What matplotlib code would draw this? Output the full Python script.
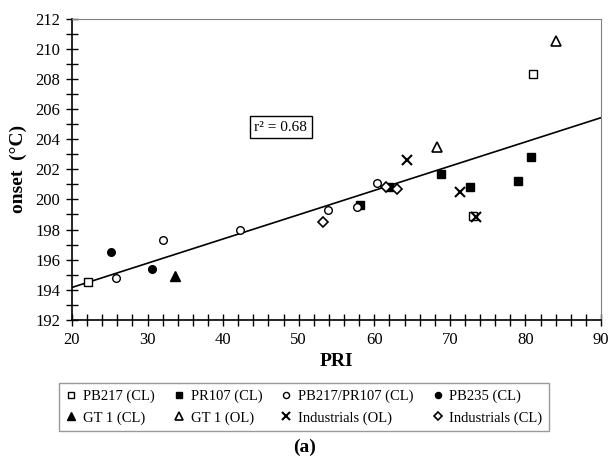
import numpy as np
import matplotlib
matplotlib.use("Agg")
import matplotlib.pyplot as plt

plt.rcParams['font.family'] = ['Liberation Serif', 'DejaVu Serif']

# datos (PRI, onset)
pb217_x = [22.1, 73.0, 81.0]
pb217_y = [194.5, 198.9, 208.3]
pr107_x = [58.1, 62.0, 68.8, 72.7, 79.0, 80.8]
pr107_y = [199.6, 200.8, 201.7, 200.8, 201.2, 202.8]
mix_x = [25.8, 32.1, 42.2, 53.9, 57.7, 60.4]
mix_y = [194.8, 197.3, 198.0, 199.3, 199.5, 201.1]
pb235_x = [25.1, 30.6]
pb235_y = [196.5, 195.4]
gt1cl_x = [33.6]
gt1cl_y = [194.9]
gt1ol_x = [68.3, 84.0]
gt1ol_y = [203.5, 210.5]
indol_x = [64.3, 71.3, 73.4]
indol_y = [202.6, 200.5, 198.8]
indcl_x = [53.2, 61.5, 63.0]
indcl_y = [198.5, 200.8, 200.7]

# recta de regresion
fit_x = [20, 90]
fit_y = [194.16, 205.42]

fig = plt.figure(figsize=(6.1, 4.68), dpi=100)
ax = fig.add_axes([72/610, 1-320/468, (601-72)/610, (320-18.5)/468])

ax.plot(fit_x, fit_y, color='black', lw=1.2, zorder=2)

h = []
h += ax.plot(pb217_x, pb217_y, 's', mfc='white', mec='black', ms=6, mew=1, ls='none', label='PB217 (CL)', zorder=3)
h += ax.plot(pr107_x, pr107_y, 's', mfc='black', mec='black', ms=6, ls='none', label='PR107 (CL)', zorder=3)
h += ax.plot(mix_x, mix_y, 'o', mfc='white', mec='black', ms=5.5, mew=1, ls='none', label='PB217/PR107 (CL)', zorder=3)
h += ax.plot(pb235_x, pb235_y, 'o', mfc='black', mec='black', ms=5.5, ls='none', label='PB235 (CL)', zorder=3)
h += ax.plot(gt1cl_x, gt1cl_y, '^', mfc='black', mec='black', ms=7, ls='none', label='GT 1 (CL)', zorder=3)
h += ax.plot(gt1ol_x, gt1ol_y, '^', mfc='white', mec='black', ms=7, mew=1.2, ls='none', label='GT 1 (OL)', zorder=3)
h += ax.plot(indol_x, indol_y, 'x', color='black', ms=7, mew=1.5, ls='none', label='Industrials (OL)', zorder=3)
h += ax.plot(indcl_x, indcl_y, 'D', mfc='white', mec='black', ms=5, mew=1.2, ls='none', label='Industrials (CL)', zorder=3)

ax.set_xlim(20, 90)
ax.set_ylim(192, 212)
ax.set_xticks(np.arange(20, 91, 10))
ax.set_xticks(np.arange(20, 91, 2), minor=True)
ax.set_yticks(np.arange(192, 213, 2))
ax.set_yticks(np.arange(192, 213, 1), minor=True)
ax.tick_params(which='major', direction='inout', length=9, width=1, labelsize=12, pad=4)
ax.tick_params(which='minor', direction='inout', length=8, width=1)
ax.spines['left'].set_linewidth(1.2)
ax.spines['bottom'].set_linewidth(1.2)
ax.spines['top'].set_color('#808080')
ax.spines['right'].set_color('#808080')

ax.set_xlabel('PRI', fontsize=14, fontweight='bold', labelpad=4)
ax.set_ylabel('onset  (°C)', fontsize=14, fontweight='bold', labelpad=6)

ax.text(47.6, 204.8, 'r² = 0.68', fontsize=11, ha='center', va='center',
        bbox=dict(boxstyle='square,pad=0.3', fc='white', ec='black', lw=1))

# leyenda por filas (matplotlib llena por columnas)
orden = [0, 4, 1, 5, 2, 6, 3, 7]
fig.legend([h[i] for i in orden], [h[i].get_label() for i in orden],
           loc='upper left', bbox_to_anchor=(59/610, 1-428/468, 490/610, 45/468),
           mode='expand', ncol=4,
           fontsize=10.5, frameon=True, fancybox=False, edgecolor='#808080',
           handlelength=0.8, handletextpad=0.4, columnspacing=1.0,
           borderpad=0.45, labelspacing=0.55, markerscale=0.8, borderaxespad=0)

fig.text(305/610, 1-447/468, '(a)', fontsize=14, fontweight='bold', ha='center', va='center')

fig.savefig('out.png', dpi=100)
